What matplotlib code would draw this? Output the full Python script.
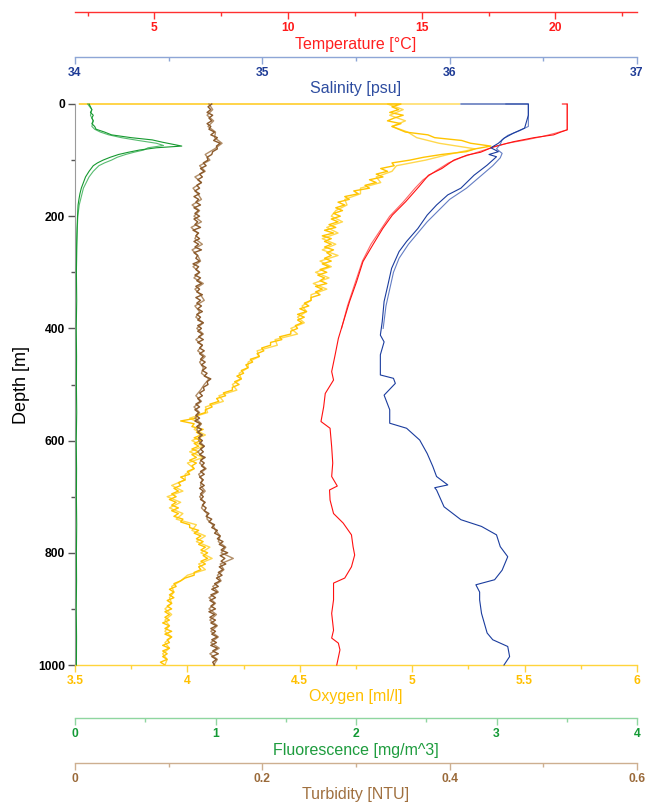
import numpy as np
import matplotlib
matplotlib.use("Agg")
import matplotlib.pyplot as plt

plt.rcParams['font.family'] = ['Liberation Sans', 'DejaVu Sans']

# ---------------- data ----------------
# Temperature [degC] (down cast, up cast)
temp_depth_a = [0, 0, 5, 20, 35, 46, 50, 55, 60, 67, 76, 86, 91, 100, 115, 127, 147, 174, 198, 222, 251, 281,
                317, 352, 388, 418, 447, 477, 492, 516, 540, 566, 578, 611, 640, 664, 681, 688, 706, 730, 747,
                768, 789, 804, 825, 845, 854, 884, 908, 938, 952, 961, 973, 1000]
temp_a = [20.26, 20.44, 20.44, 20.44, 20.44, 20.44, 20.2, 19.93, 19.2, 18.45, 17.7, 17.2, 16.7, 16.2, 15.75,
          15.25, 14.9, 14.4, 13.9, 13.54, 13.17, 12.8, 12.56, 12.3, 12.07, 11.88, 11.76, 11.63, 11.7, 11.39,
          11.33, 11.23, 11.57, 11.63, 11.67, 11.63, 11.84, 11.55, 11.57, 11.7, 12.06, 12.37, 12.43, 12.49,
          12.37, 12.12, 11.7, 11.7, 11.63, 11.7, 11.63, 11.88, 11.94, 11.82]
temp_depth_b = [0, 46, 52, 58, 64, 70, 78, 88, 95, 105, 120, 135, 150, 175, 200, 225, 250, 280, 320, 360, 400]
temp_b = [20.44, 20.44, 20.0, 19.5, 18.9, 18.2, 17.6, 16.95, 16.5, 16.0, 15.5, 15.05, 14.75, 14.3, 13.8,
          13.45, 13.1, 12.78, 12.5, 12.22, 12.0]

# Salinity [psu]
sal_depth_a = [0, 0, 5, 20, 43, 52, 61, 70, 78, 85, 90, 94, 109, 127, 150, 162, 180, 198, 222, 245, 263, 293,
               323, 352, 388, 412, 424, 447, 483, 489, 498, 519, 545, 569, 578, 599, 623, 646, 664, 679, 684,
               688, 718, 741, 753, 768, 789, 807, 831, 848, 857, 870, 884, 908, 943, 955, 967, 985, 1000]
sal_a = [36.06, 36.42, 36.42, 36.42, 36.40, 36.34, 36.29, 36.26, 36.22, 36.26, 36.21, 36.25, 36.20, 36.13,
         36.06, 35.99, 35.93, 35.88, 35.83, 35.77, 35.73, 35.69, 35.67, 35.65, 35.64, 35.63, 35.65, 35.63,
         35.63, 35.70, 35.71, 35.65, 35.68, 35.68, 35.77, 35.84, 35.88, 35.91, 35.93, 35.99, 35.92, 35.93,
         35.97, 36.06, 36.17, 36.25, 36.27, 36.31, 36.28, 36.24, 36.14, 36.16, 36.16, 36.17, 36.20, 36.23,
         36.31, 36.32, 36.29]
sal_depth_b = [0, 0, 40, 48, 56, 64, 72, 80, 88, 96, 110, 130, 150, 170, 190, 210, 230, 250, 275, 300, 330,
               360, 400]
sal_b = [36.30, 36.42, 36.42, 36.37, 36.31, 36.28, 36.27, 36.25, 36.28, 36.27, 36.23, 36.16, 36.09, 36.00,
         35.94, 35.88, 35.83, 35.78, 35.73, 35.70, 35.68, 35.66, 35.645]

# Oxygen [ml/l], sampled every 5 m (cast A) and every 10 m (cast B)
ox_depth_a = np.arange(0, 1001, 5)
ox_a = [4.95, 4.91, 4.94, 4.90, 4.96, 4.92, 4.89, 4.95, 4.91, 4.94,
        4.97, 5.07, 5.10, 5.22, 5.26, 5.35, 5.28, 5.24, 5.13, 5.05,
        4.99, 4.91, 4.92, 4.86, 4.89, 4.84, 4.87, 4.81, 4.84, 4.79,
        4.81, 4.74, 4.76, 4.70, 4.72, 4.67, 4.70, 4.66, 4.69, 4.65,
        4.68, 4.64, 4.67, 4.63, 4.66, 4.61, 4.65, 4.60, 4.64, 4.61,
        4.64, 4.61, 4.65, 4.62, 4.64, 4.61, 4.64, 4.60, 4.63, 4.59,
        4.62, 4.58, 4.61, 4.59, 4.62, 4.57, 4.60, 4.57, 4.59, 4.55,
        4.55, 4.52, 4.54, 4.50, 4.53, 4.49, 4.52, 4.49, 4.51, 4.48,
        4.49, 4.46, 4.46, 4.41, 4.42, 4.37, 4.37, 4.33, 4.34, 4.31,
        4.32, 4.28, 4.29, 4.26, 4.27, 4.24, 4.25, 4.22, 4.24, 4.21,
        4.23, 4.20, 4.20, 4.16, 4.17, 4.13, 4.14, 4.10, 4.11, 4.08,
        4.08, 4.04, 4.04, 3.97, 4.03, 4.02, 4.07, 4.04, 4.06, 4.03,
        4.06, 4.03, 4.05, 4.02, 4.05, 4.02, 4.04, 4.01, 4.04, 4.02,
        4.03, 4.00, 4.01, 3.97, 3.99, 3.96, 3.97, 3.94, 3.96, 3.93,
        3.95, 3.92, 3.95, 3.93, 3.96, 3.93, 3.96, 3.94, 3.98, 3.97,
        4.01, 4.01, 4.05, 4.03, 4.06, 4.04, 4.07, 4.05, 4.08, 4.06,
        4.09, 4.07, 4.09, 4.06, 4.08, 4.05, 4.06, 4.03, 4.03, 3.99,
        3.97, 3.94, 3.95, 3.92, 3.94, 3.92, 3.94, 3.91, 3.93, 3.91,
        3.93, 3.90, 3.92, 3.90, 3.92, 3.89, 3.92, 3.90, 3.93, 3.90,
        3.93, 3.91, 3.92, 3.89, 3.92, 3.89, 3.91, 3.89, 3.91, 3.88,
        3.90]
ox_start_a = 3.52
ox_depth_b = np.arange(0, 1001, 10)
ox_b = [4.89, 4.96, 4.90, 4.97, 4.91, 4.98, 5.02, 5.12, 5.28, 5.16,
        5.06, 4.93, 4.91, 4.84, 4.86, 4.77, 4.77, 4.70, 4.71, 4.66,
        4.64, 4.69, 4.62, 4.67, 4.60, 4.66, 4.60, 4.67, 4.59, 4.64,
        4.57, 4.63, 4.56, 4.62, 4.55, 4.55, 4.51, 4.53, 4.49, 4.52,
        4.46, 4.49, 4.39, 4.40, 4.31, 4.32, 4.27, 4.27, 4.23, 4.24,
        4.20, 4.22, 4.14, 4.16, 4.08, 4.09, 4.01, 4.06, 4.03, 4.08,
        4.02, 4.07, 4.01, 4.07, 4.00, 4.03, 3.99, 3.99, 3.93, 3.98,
        3.91, 3.97, 3.92, 3.98, 3.95, 4.04, 4.02, 4.08, 4.04, 4.10,
        4.06, 4.11, 4.05, 4.08, 4.00, 3.97, 3.93, 3.94, 3.92, 3.93,
        3.90, 3.93, 3.90, 3.92, 3.90, 3.93, 3.90, 3.92, 3.89, 3.91,
        3.90]
ox_start_b = 5.21

# Fluorescence [mg/m^3]
fl_depth_a = [0, 5, 10, 15, 20, 25, 30, 35, 40, 45, 50, 55, 60, 64, 68, 72, 75, 78, 82, 86, 90, 95, 100, 105,
              110, 120, 130, 140, 150, 160, 170, 180, 200, 220, 250, 300, 350, 400, 450, 500, 550, 600, 650,
              700, 750, 800, 850, 900, 950, 1000]
fl_a = [0.10, 0.11, 0.12, 0.11, 0.13, 0.12, 0.13, 0.12, 0.14, 0.15, 0.21, 0.26, 0.40, 0.55, 0.62, 0.70, 0.76,
        0.58, 0.46, 0.38, 0.31, 0.25, 0.20, 0.16, 0.13, 0.10, 0.075, 0.06, 0.045, 0.035, 0.028, 0.022, 0.018,
        0.015, 0.012, 0.010, 0.012, 0.009, 0.011, 0.010, 0.012, 0.009, 0.011, 0.010, 0.012, 0.010, 0.011,
        0.009, 0.011, 0.010]
fl_depth_b = [0, 10, 20, 30, 40, 45, 50, 55, 60, 65, 70, 74, 78, 82, 86, 90, 95, 100, 105, 110, 120, 130, 140,
              150, 165, 180, 200, 230, 260, 300]
fl_b = [0.09, 0.12, 0.11, 0.13, 0.12, 0.14, 0.18, 0.24, 0.33, 0.45, 0.58, 0.63, 0.52, 0.49, 0.42, 0.36, 0.30,
        0.26, 0.21, 0.17, 0.13, 0.10, 0.08, 0.06, 0.045, 0.03, 0.02, 0.015, 0.012, 0.010]

# Turbidity [NTU], sampled every 5 m (cast A) and every 10 m (cast B)
tu_depth = np.arange(0, 1001, 5)
tu = [0.146, 0.142, 0.145, 0.141, 0.147, 0.143, 0.146, 0.141, 0.145, 0.143,
      0.149, 0.145, 0.152, 0.148, 0.155, 0.151, 0.152, 0.147, 0.146, 0.141,
      0.142, 0.137, 0.140, 0.134, 0.138, 0.133, 0.136, 0.131, 0.135, 0.130,
      0.133, 0.128, 0.133, 0.127, 0.132, 0.129, 0.134, 0.127, 0.132, 0.128,
      0.133, 0.127, 0.131, 0.128, 0.134, 0.126, 0.132, 0.129, 0.133, 0.127,
      0.132, 0.128, 0.135, 0.127, 0.131, 0.129, 0.133, 0.126, 0.132, 0.129,
      0.133, 0.128, 0.134, 0.130, 0.135, 0.129, 0.133, 0.130, 0.136, 0.129,
      0.134, 0.130, 0.135, 0.131, 0.136, 0.130, 0.134, 0.131, 0.137, 0.131,
      0.135, 0.131, 0.136, 0.132, 0.137, 0.131, 0.136, 0.133, 0.138, 0.133,
      0.137, 0.134, 0.139, 0.135, 0.140, 0.136, 0.141, 0.138, 0.145, 0.141,
      0.142, 0.137, 0.138, 0.133, 0.136, 0.131, 0.134, 0.129, 0.133, 0.128,
      0.132, 0.129, 0.133, 0.128, 0.134, 0.130, 0.135, 0.131, 0.136, 0.132,
      0.136, 0.133, 0.138, 0.134, 0.137, 0.133, 0.139, 0.134, 0.138, 0.135,
      0.139, 0.134, 0.138, 0.133, 0.137, 0.134, 0.138, 0.133, 0.137, 0.134,
      0.137, 0.134, 0.139, 0.136, 0.140, 0.138, 0.143, 0.140, 0.146, 0.143,
      0.149, 0.146, 0.152, 0.149, 0.155, 0.152, 0.158, 0.154, 0.160, 0.156,
      0.163, 0.155, 0.160, 0.156, 0.161, 0.154, 0.158, 0.153, 0.157, 0.151,
      0.155, 0.149, 0.153, 0.146, 0.152, 0.145, 0.150, 0.144, 0.149, 0.145,
      0.150, 0.143, 0.149, 0.144, 0.150, 0.145, 0.151, 0.145, 0.150, 0.146,
      0.152, 0.146, 0.151, 0.145, 0.152, 0.147, 0.153, 0.146, 0.151, 0.147,
      0.149]
tu_depth_b = np.arange(0, 1001, 10)
tu_b = [0.143, 0.147, 0.141, 0.148, 0.142, 0.150, 0.149, 0.157, 0.149, 0.139,
        0.144, 0.133, 0.139, 0.128, 0.135, 0.126, 0.131, 0.135, 0.125, 0.133,
        0.127, 0.135, 0.124, 0.131, 0.128, 0.136, 0.125, 0.131, 0.134, 0.126,
        0.133, 0.127, 0.137, 0.128, 0.134, 0.138, 0.128, 0.133, 0.129, 0.137,
        0.130, 0.137, 0.129, 0.136, 0.131, 0.139, 0.133, 0.137, 0.135, 0.143,
        0.138, 0.134, 0.129, 0.135, 0.127, 0.133, 0.128, 0.135, 0.130, 0.134,
        0.132, 0.138, 0.131, 0.137, 0.133, 0.140, 0.132, 0.136, 0.134, 0.139,
        0.133, 0.138, 0.135, 0.141, 0.141, 0.147, 0.150, 0.155, 0.153, 0.161,
        0.156, 0.169, 0.155, 0.159, 0.152, 0.156, 0.147, 0.153, 0.143, 0.150,
        0.143, 0.151, 0.144, 0.152, 0.145, 0.153, 0.145, 0.154, 0.144, 0.152,
        0.148]

# axis scales and tick labels
depth_ticks = [0, 200, 400, 600, 800, 1000]
depth_labels = ['0', '200', '400', '600', '800', '1000']
temp_ticks = [5, 10, 15, 20]
temp_labels = ['5', '10', '15', '20']
sal_ticks = [34, 35, 36, 37]
sal_labels = ['34', '35', '36', '37']
ox_ticks = [3.5, 4, 4.5, 5, 5.5, 6]
ox_labels = ['3.5', '4', '4.5', '5', '5.5', '6']
fl_ticks = [0, 1, 2, 3, 4]
fl_labels = ['0', '1', '2', '3', '4']
tu_ticks = [0, 0.2, 0.4, 0.6]
tu_labels = ['0', '0.2', '0.4', '0.6']

# ---------------- figure ----------------
W, H = 648, 807
fig = plt.figure(figsize=(W / 100, H / 100), dpi=100)
L, R, T, B = 75, 637, 104, 665
ax = fig.add_axes([L / W, 1 - B / H, (R - L) / W, (B - T) / H])
ax.set_ylim(1000, 0)
ax.set_xlim(3.5, 6.0)

TICKFS = 8.7
TITLEFS = 11.5


def style_xaxis(a, spine, pos, spine_col, lab_col, title_col, ticks, labels, minor, title):
    for s in a.spines.values():
        s.set_visible(False)
    sp = a.spines[spine]
    sp.set_visible(True)
    sp.set_color(spine_col)
    sp.set_linewidth(1.0)
    if pos is not None:
        sp.set_position(('axes', pos))
    a.xaxis.set_ticks_position('bottom')
    a.xaxis.set_label_position('bottom')
    a.set_xticks(ticks, labels)
    a.set_xticks(minor, minor=True)
    a.tick_params(axis='x', which='both', direction='out', color=spine_col, width=1.0)
    a.tick_params(axis='x', which='major', length=5, pad=2.5, labelcolor=lab_col, labelsize=TICKFS)
    a.tick_params(axis='x', which='minor', length=3)
    for t in a.get_xticklabels():
        t.set_fontweight('bold')
    a.set_xlabel(title, color=title_col, fontsize=TITLEFS, labelpad=1.5)


# main axes: oxygen + depth
style_xaxis(ax, 'bottom', None, '#FFD43B', '#FFC000', '#FFC000', ox_ticks, ox_labels,
            [3.75, 4.25, 4.75, 5.25, 5.75], 'Oxygen [ml/l]')
ax.spines['left'].set_visible(True)
ax.spines['left'].set_color('#9A9A9A')
ax.set_yticks(depth_ticks, depth_labels)
ax.set_yticks([100, 300, 500, 700, 900], minor=True)
ax.tick_params(axis='y', which='both', direction='out', color='#555555', width=1.0)
ax.tick_params(axis='y', which='major', length=5, pad=2, labelsize=TICKFS, labelcolor='black')
ax.tick_params(axis='y', which='minor', length=3)
for t in ax.get_yticklabels():
    t.set_fontweight('bold')
ax.set_ylabel('Depth [m]', fontsize=13, labelpad=6)

# twin axes
tw_t = ax.twiny()
tw_t.set_xlim(2.03, 23.05)
style_xaxis(tw_t, 'bottom', 1 + 92 / 561, '#FF3030', '#FF1A1A', '#FF2020', temp_ticks, temp_labels,
            [2.5, 7.5, 12.5, 17.5, 22.5], 'Temperature [°C]')

tw_s = ax.twiny()
tw_s.set_xlim(34, 37)
style_xaxis(tw_s, 'bottom', 1 + 47 / 561, '#8EA6D6', '#1F3C96', '#2E4DA0', sal_ticks, sal_labels,
            [34.5, 35.5, 36.5], 'Salinity [psu]')

tw_f = ax.twiny()
tw_f.set_xlim(0, 4)
style_xaxis(tw_f, 'bottom', -53 / 561, '#8FD6A0', '#139A35', '#1E9C3E', fl_ticks, fl_labels,
            [0.5, 1.5, 2.5, 3.5], 'Fluorescence [mg/m^3]')

tw_u = ax.twiny()
tw_u.set_xlim(0, 0.6)
style_xaxis(tw_u, 'bottom', -98 / 561, '#CDAF90', '#9A6A3A', '#A0703F', tu_ticks, tu_labels,
            [0.1, 0.3, 0.5], 'Turbidity [NTU]')

for a in (tw_t, tw_s, tw_f, tw_u):
    a.set_ylim(1000, 0)

LW = 0.8
# fluorescence
tw_f.plot(fl_b, fl_depth_b, color='#2EAA4C', lw=LW, alpha=0.8, clip_on=False)
tw_f.plot(fl_a, fl_depth_a, color='#15992F', lw=LW, clip_on=False)
# turbidity
tw_u.plot(tu_b, tu_depth_b, color='#A47A4E', lw=1.0, alpha=0.85, clip_on=False)
tw_u.plot(tu, tu_depth, color='#8B5A2B', lw=1.0, clip_on=False)
# oxygen
ox_a_d = np.concatenate([[0], ox_depth_a])
ox_a_v = np.concatenate([[ox_start_a], ox_a])
ox_b_d = np.concatenate([[0], ox_depth_b])
ox_b_v = np.concatenate([[ox_start_b], ox_b])
ax.plot(ox_b_v, ox_b_d, color='#FFD84D', lw=1.0, clip_on=False)
ax.plot(ox_a_v, ox_a_d, color='#FFC400', lw=1.0, clip_on=False)
# temperature
tw_t.plot(temp_b, temp_depth_b, color='#FF4040', lw=LW, alpha=0.8, clip_on=False)
tw_t.plot(temp_a, temp_depth_a, color='#FF1010', lw=LW, clip_on=False)
# salinity
tw_s.plot(sal_b, sal_depth_b, color='#3D5DB5', lw=LW, alpha=0.8, clip_on=False)
tw_s.plot(sal_a, sal_depth_a, color='#1A3C9E', lw=LW, clip_on=False)

fig.savefig('out.png', dpi=100)
